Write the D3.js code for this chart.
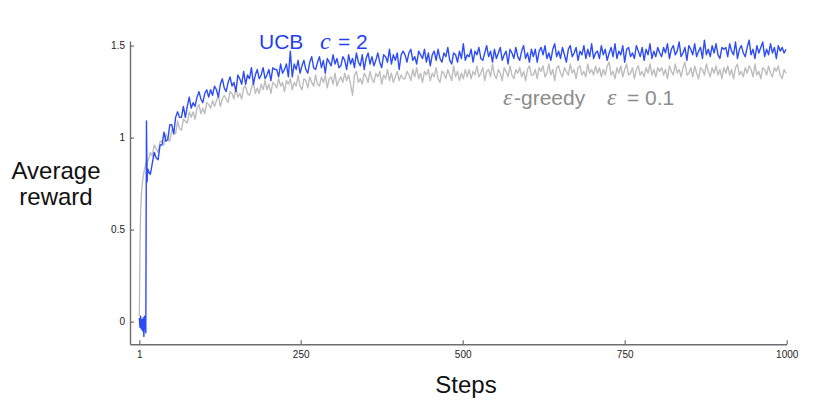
<!DOCTYPE html>
<html>
<head>
<meta charset="utf-8">
<script src="https://cdn.jsdelivr.net/npm/d3@7"></script>
<style>
  html, body { margin: 0; padding: 0; background: #fff; }
  svg { display: block; }
  text { font-family: "Liberation Sans", Arial, Helvetica, sans-serif; }
</style>
</head>
<body>
<svg id="chart" width="816" height="404"></svg>
<script>
// ---------------- data ----------------
const earlySteps = [1,2,3,4,5,6,7,8,9,10,11,12,13,14];
const ucbEarly = [0.02,-0.03,0.03,-0.04,0.01,-0.05,0.02,-0.08,0.03,-0.02,-0.06,1.09,0.76,0.83];
const greedyEarly = [0.03,0.40,0.60,0.68,0.73,0.76,0.79,0.81,0.83,0.84,0.86,0.87,0.85,0.88];

// values at steps 15, 18, 21, ... 999 (every 3rd step)
const ucbValues = [
  0.82,0.80,0.86,0.92,0.89,0.88,0.96,0.96,1.03,0.98,0.99,1.07,1.07,1.02,1.11,1.14,1.11,1.11,1.17,1.11,1.17,1.22,1.16,1.19,1.17,1.22,1.25,1.21,1.19,1.24,1.26,1.22,1.26,
  1.23,1.28,1.26,1.22,1.29,1.32,1.27,1.25,1.30,1.33,1.28,1.30,1.25,1.34,1.32,1.29,1.36,1.29,1.34,1.32,1.38,1.29,1.34,1.37,1.32,1.34,1.38,1.32,1.34,1.37,1.31,1.38,1.37,
  1.37,1.33,1.40,1.35,1.37,1.40,1.33,1.47,1.33,1.40,1.37,1.42,1.35,1.39,1.42,1.37,1.35,1.41,1.44,1.38,1.37,1.41,1.44,1.38,1.42,1.35,1.43,1.41,1.39,1.45,1.40,1.43,1.38,
  1.39,1.44,1.42,1.37,1.45,1.40,1.43,1.38,1.46,1.41,1.39,1.45,1.37,1.43,1.46,1.40,1.44,1.39,1.42,1.46,1.41,1.38,1.45,1.44,1.41,1.48,1.40,1.45,1.42,1.46,1.37,1.45,1.47,
  1.45,1.41,1.46,1.48,1.42,1.44,1.40,1.47,1.45,1.43,1.48,1.41,1.46,1.39,1.45,1.47,1.42,1.48,1.43,1.41,1.46,1.44,1.49,1.42,1.40,1.46,1.45,1.41,1.47,1.43,1.51,1.42,1.45,
  1.44,1.48,1.41,1.47,1.45,1.49,1.43,1.42,1.46,1.50,1.44,1.47,1.41,1.48,1.43,1.46,1.49,1.42,1.45,1.47,1.40,1.48,1.46,1.43,1.49,1.44,1.42,1.47,1.50,1.43,1.46,1.41,1.48,
  1.44,1.48,1.41,1.47,1.49,1.45,1.50,1.43,1.46,1.42,1.48,1.51,1.44,1.47,1.43,1.49,1.45,1.41,1.48,1.50,1.44,1.46,1.49,1.42,1.47,1.45,1.50,1.43,1.48,1.44,1.51,1.43,1.46,
  1.47,1.43,1.50,1.45,1.48,1.42,1.46,1.49,1.44,1.51,1.43,1.47,1.45,1.50,1.41,1.48,1.49,1.44,1.46,1.43,1.50,1.47,1.44,1.49,1.42,1.48,1.45,1.51,1.43,1.47,1.44,1.49,1.46,
  1.44,1.49,1.46,1.51,1.43,1.48,1.50,1.45,1.47,1.52,1.44,1.46,1.49,1.42,1.50,1.48,1.45,1.51,1.44,1.47,1.49,1.43,1.53,1.45,1.48,1.44,1.50,1.46,1.51,1.45,1.43,1.49,1.48,
  1.49,1.44,1.51,1.47,1.45,1.52,1.43,1.48,1.50,1.46,1.44,1.49,1.53,1.45,1.48,1.43,1.50,1.46,1.49,1.52,1.44,1.48,1.45,1.51,1.46,1.49,1.43,1.50,1.47,1.49,1.46,1.48
];
const greedyValues = [
  0.88,0.92,0.90,0.96,0.94,0.92,0.98,0.98,0.96,1.02,0.99,0.98,1.04,1.04,1.02,1.09,1.05,1.04,1.10,1.09,1.08,1.14,1.11,1.14,1.10,1.16,1.18,1.13,1.16,1.13,1.19,1.18,1.16,
  1.20,1.17,1.20,1.23,1.17,1.21,1.23,1.21,1.19,1.25,1.24,1.21,1.27,1.22,1.24,1.21,1.27,1.28,1.24,1.23,1.27,1.30,1.24,1.27,1.24,1.29,1.26,1.31,1.26,1.29,1.24,1.30,1.29,
  1.27,1.32,1.28,1.30,1.25,1.31,1.29,1.32,1.26,1.30,1.28,1.34,1.28,1.26,1.32,1.31,1.27,1.33,1.30,1.28,1.34,1.29,1.28,1.33,1.30,1.34,1.27,1.32,1.33,1.29,1.35,1.28,1.31,
  1.33,1.30,1.35,1.31,1.34,1.29,1.23,1.34,1.36,1.30,1.32,1.29,1.35,1.33,1.30,1.36,1.32,1.30,1.35,1.33,1.36,1.29,1.34,1.32,1.37,1.31,1.35,1.30,1.33,1.36,1.31,1.34,1.32,
  1.32,1.36,1.34,1.31,1.37,1.33,1.38,1.32,1.35,1.30,1.36,1.34,1.37,1.31,1.35,1.33,1.38,1.32,1.30,1.36,1.35,1.32,1.37,1.34,1.31,1.39,1.33,1.36,1.31,1.35,1.32,1.37,1.33,
  1.37,1.32,1.36,1.34,1.39,1.33,1.35,1.38,1.31,1.36,1.37,1.33,1.40,1.34,1.32,1.37,1.35,1.31,1.38,1.36,1.33,1.39,1.34,1.32,1.37,1.35,1.38,1.33,1.36,1.31,1.37,1.39,1.34,
  1.34,1.37,1.32,1.38,1.36,1.39,1.33,1.35,1.40,1.34,1.37,1.31,1.38,1.39,1.35,1.33,1.38,1.36,1.34,1.40,1.35,1.37,1.32,1.38,1.39,1.34,1.36,1.33,1.40,1.35,1.37,1.34,1.39,
  1.35,1.38,1.33,1.37,1.34,1.39,1.41,1.34,1.36,1.32,1.38,1.35,1.39,1.33,1.37,1.40,1.34,1.35,1.38,1.32,1.37,1.39,1.34,1.36,1.33,1.38,1.35,1.40,1.34,1.37,1.33,1.38,1.36,
  1.38,1.34,1.37,1.32,1.39,1.36,1.34,1.40,1.35,1.37,1.33,1.38,1.41,1.34,1.35,1.38,1.33,1.39,1.35,1.32,1.38,1.37,1.34,1.40,1.36,1.33,1.38,1.35,1.39,1.34,1.37,1.32,1.38,
  1.35,1.39,1.34,1.37,1.32,1.38,1.40,1.34,1.36,1.33,1.38,1.35,1.39,1.37,1.33,1.40,1.34,1.36,1.32,1.38,1.37,1.34,1.39,1.35,1.33,1.38,1.36,1.39,1.34,1.32,1.37,1.35
];
const regularSteps = d3.range(15, 1000, 3);

const xTicks = [1, 250, 500, 750, 1000];
const yTicks = [0, 0.5, 1, 1.5];
const yTickLabels = ["0", "0.5", "1", "1.5"];

if (ucbValues.length !== regularSteps.length || greedyValues.length !== regularSteps.length) {
  throw new Error("length mismatch " + ucbValues.length + " " + greedyValues.length + " " + regularSteps.length);
}

// ---------------- build series ----------------
const steps = earlySteps.concat(regularSteps);
const ucbAll = ucbEarly.concat(ucbValues);
const greedyAll = greedyEarly.concat(greedyValues);
const ucb = steps.map((s, i) => ({ s, v: ucbAll[i] }));
const greedy = steps.map((s, i) => ({ s, v: greedyAll[i] }));

// ---------------- scales ----------------
const x = d3.scaleLinear().domain([-13.4, 1000]).range([130, 786.7]);
const y = d3.scaleLinear().domain([-0.123, 1.525]).range([344.3, 41]);

const svg = d3.select("#chart");

// axes
const axisColor = "#6e6e6e";
const gx = svg.append("g").attr("transform", `translate(0,${y(-0.123)})`)
  .call(d3.axisBottom(x).tickValues(xTicks).tickFormat(d3.format("d")).tickSize(-4).tickPadding(7).tickSizeOuter(0));
const gy = svg.append("g").attr("transform", `translate(${x(-13.4)},0)`)
  .call(d3.axisLeft(y).tickValues(yTicks).tickFormat((d, i) => yTickLabels[i]).tickSize(-4).tickPadding(5).tickSizeOuter(0));
[gx, gy].forEach(g => {
  g.select(".domain").attr("stroke", axisColor).attr("stroke-width", 1.4);
  g.selectAll(".tick line").attr("stroke", axisColor).attr("stroke-width", 1.2);
  g.selectAll(".tick text").attr("fill", "#222").style("font-size", "10px")
    .style("font-family", "'Liberation Sans', Arial, sans-serif");
});

// lines
const line = d3.line().x(d => x(d.s)).y(d => y(d.v));
svg.append("path").datum(greedy).attr("d", line)
  .attr("fill", "none").attr("stroke", "#bdbdbd").attr("stroke-width", 1.4).attr("stroke-linejoin", "round");
svg.append("path").datum(ucb).attr("d", line)
  .attr("fill", "none").attr("stroke", "#2d4cf6").attr("stroke-width", 1.4).attr("stroke-linejoin", "round");

// axis titles
const yt = svg.append("text").attr("text-anchor", "middle").attr("fill", "#111").style("font-size", "24px");
yt.append("tspan").attr("x", 56).attr("y", 179).text("Average");
yt.append("tspan").attr("x", 56).attr("y", 205).text("reward");
svg.append("text").attr("x", 466).attr("y", 393).attr("text-anchor", "middle")
  .attr("fill", "#111").style("font-size", "24px").text("Steps");

// series labels
const serif = "'Liberation Serif', 'Times New Roman', serif";
const ucbLab = svg.append("text").attr("y", 48.5).attr("fill", "#1f3ff2").style("font-size", "21px");
ucbLab.append("tspan").attr("x", 259).text("UCB");
ucbLab.append("tspan").attr("x", 320).style("font-family", serif).style("font-style", "italic").style("font-size", "24px").text("c");
ucbLab.append("tspan").attr("x", 338).text("= 2");

const grLab = svg.append("text").attr("y", 105).attr("fill", "#8c8c8c").style("font-size", "21px");
grLab.append("tspan").attr("x", 503).style("font-family", serif).style("font-style", "italic").style("font-size", "24px").text("ε");
grLab.append("tspan").attr("x", 514).text("-greedy");
grLab.append("tspan").attr("x", 607).style("font-family", serif).style("font-style", "italic").style("font-size", "24px").text("ε");
grLab.append("tspan").attr("x", 627).text("= 0.1");
</script>
</body>
</html>
